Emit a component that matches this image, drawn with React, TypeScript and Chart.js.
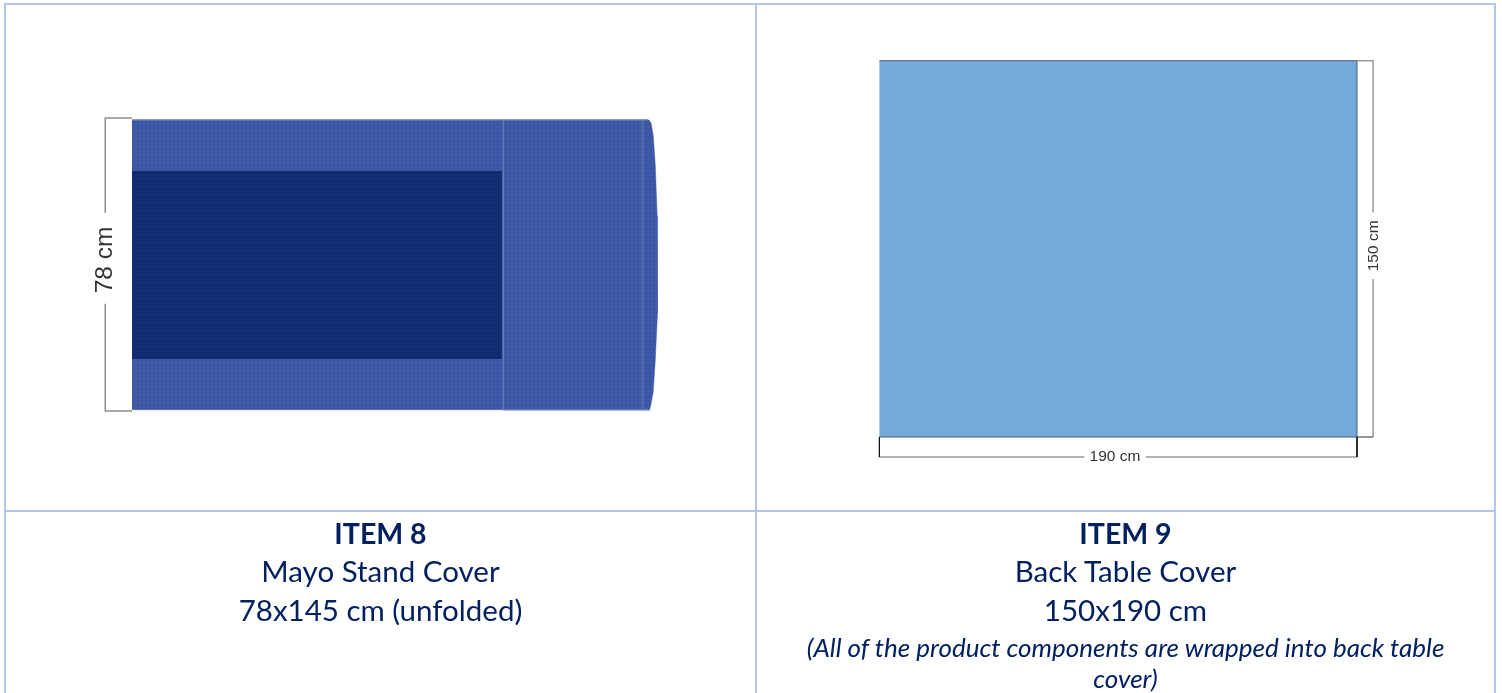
import React, { useEffect, useRef } from "react";
import { Chart, registerables } from "chart.js";

Chart.register(...registerables);

type Pt = [number, number];

// ITEM 8 drawing, all values in centimetres
const mayoFabric: Pt[] = [[0, 77.5], [144.8, 77.5], [145.4, 76.6], [146, 73.5], [146.6, 65], [147.1, 52], [147.3, 39], [147.1, 26], [146.6, 14], [146, 5], [145.3, 1.5], [145, 0.3], [0, 0.3]];
const mayoPanel: Pt[] = [[0, 63.9], [103.6, 63.9], [103.6, 13.8], [0, 13.8]];
const mayoFold: Pt[] = [[104, 77.5], [104, 0.3]];
const mayoSeam: Pt[] = [[143, 77.5], [143, 0.3]];
const mayoTopEdge: Pt[] = [[0, 77.5], [144.5, 77.5]];
const mayoBottomEdge: Pt[] = [[104, 0.3], [145, 0.3]];
const mayoDimUpper: Pt[] = [[0, 78], [-7.5, 78], [-7.5, 52.7]];
const mayoDimLower: Pt[] = [[-7.5, 28.5], [-7.5, 0], [0, 0]];
const mayoDimLabel = "78 cm";
const mayoDimLabelAt: Pt = [-7.5, 40.2];

// ITEM 9 drawing, all values in centimetres
const tableCover: Pt[] = [[0, 0], [190, 0], [190, 150], [0, 150]];
const tableDimRightUpper: Pt[] = [[190, 150], [196.4, 150], [196.4, 89.5]];
const tableDimRightLower: Pt[] = [[196.4, 63], [196.4, 0]];
const tableTickRight: Pt[] = [[190, 0], [196.4, 0]];
const tableTickLeft: Pt[] = [[0, 0], [0, -8]];
const tableTickBottom: Pt[] = [[190, 0], [190, -8]];
const tableDimBottomLeft: Pt[] = [[0, -8], [81.5, -8]];
const tableDimBottomRight: Pt[] = [[106, -8], [190, -8]];
const tableWidthLabel = "190 cm";
const tableWidthLabelAt: Pt = [93.7, -8];
const tableHeightLabel = "150 cm";
const tableHeightLabelAt: Pt = [196.7, 76.2];

const captions8 = ["ITEM 8", "Mayo Stand Cover", "78x145 cm (unfolded)"];
const captions9 = ["ITEM 9", "Back Table Cover", "150x190 cm"];
const note9 = ["(All of the product components are wrapped into back table", "cover)"];

const RULE = "#B4C6E7";
const INK = "#002060";

function weave(base: string, dot: string): CanvasPattern {
  const c = document.createElement("canvas");
  c.width = 4;
  c.height = 4;
  const g = c.getContext("2d")!;
  g.fillStyle = base;
  g.fillRect(0, 0, 4, 4);
  g.fillStyle = dot;
  g.fillRect(1, 1, 2, 2);
  return g.createPattern(c, "repeat")!;
}

const ds = (pts: Pt[], o: any) => ({
  data: pts.map(([x, y]) => ({ x, y })),
  showLine: true,
  pointRadius: 0,
  tension: 0,
  borderWidth: 0,
  ...o,
});

type Label = { text: string; at: Pt; font: string; color: string; rotate: boolean };

const labelPlugin = (labels: Label[]) => ({
  id: "dimLabels",
  afterDatasetsDraw(chart: any) {
    const { ctx, scales } = chart;
    labels.forEach((l) => {
      ctx.save();
      ctx.translate(scales.x.getPixelForValue(l.at[0]), scales.y.getPixelForValue(l.at[1]));
      if (l.rotate) ctx.rotate(-Math.PI / 2);
      ctx.font = l.font;
      ctx.fillStyle = l.color;
      ctx.textAlign = "center";
      ctx.textBaseline = "middle";
      ctx.fillText(l.text, 0, 0);
      ctx.restore();
    });
  },
});

function makeChart(canvas: HTMLCanvasElement, datasets: any[], range: number[], labels: Label[]) {
  return new Chart(canvas, {
    type: "scatter",
    data: { datasets },
    options: {
      animation: false,
      responsive: false,
      devicePixelRatio: 1,
      layout: { padding: 0 },
      plugins: { legend: { display: false }, tooltip: { enabled: false } },
      scales: {
        x: { type: "linear", display: false, min: range[0], max: range[1] },
        y: { type: "linear", display: false, min: range[2], max: range[3] },
      },
    },
    plugins: [labelPlugin(labels)],
  } as any);
}

const bar = (style: React.CSSProperties) => <div style={{ position: "absolute", background: RULE, ...style }} />;

const lineStyle = (top: number, italic = false, bold = false): React.CSSProperties => ({
  position: "absolute",
  left: 0,
  right: 0,
  top,
  textAlign: "center",
  whiteSpace: "nowrap",
  color: INK,
  fontFamily: "Lato, sans-serif",
  fontSize: italic ? 26 : bold ? 28.5 : 29.5,
  lineHeight: "30px",
  fontStyle: italic ? "italic" : "normal",
  fontWeight: bold ? 700 : 400,
});

export default function App() {
  const a = useRef<HTMLCanvasElement>(null);
  const b = useRef<HTMLCanvasElement>(null);

  useEffect(() => {
    document.body.style.margin = "0";
    const light = weave("#3A56A4", "#425EAB");
    const dark = weave("#102B70", "#15317A");
    const grey = "#8f8f8f";
    const c1 = makeChart(
      a.current!,
      [
        ds(mayoDimUpper, { borderWidth: 1.5, borderColor: grey }),
        ds(mayoDimLower, { borderWidth: 1.5, borderColor: grey }),
        ds(mayoBottomEdge, { borderWidth: 1.5, borderColor: "#6B7FB8" }),
        ds(mayoTopEdge, { borderWidth: 1.5, borderColor: "#6B7FB8" }),
        ds(mayoSeam, { borderWidth: 2.5, borderColor: "rgba(110,128,185,0.45)" }),
        ds(mayoFold, { borderWidth: 1.5, borderColor: "#6478B6" }),
        ds(mayoPanel, { fill: "shape", backgroundColor: dark }),
        ds(mayoFabric, { fill: "shape", backgroundColor: light, borderWidth: 0.8, borderColor: "rgba(60,85,170,0.5)" }),
      ],
      [-35.3, 174.5, -26.4, 108.1],
      [{ text: mayoDimLabel, at: mayoDimLabelAt, font: '24.5px "Liberation Sans"', color: "#333333", rotate: true }]
    );
    const c2 = makeChart(
      b.current!,
      [
        ds(tableTickLeft, { borderWidth: 1, borderColor: "#111" }),
        ds(tableTickBottom, { borderWidth: 1, borderColor: "#111" }),
        ds(tableTickRight, { borderWidth: 1, borderColor: "#333" }),
        ds(tableDimRightUpper, { borderWidth: 1.5, borderColor: "#9a9a9a" }),
        ds(tableDimRightLower, { borderWidth: 1.5, borderColor: "#9a9a9a" }),
        ds(tableDimBottomLeft, { borderWidth: 1.5, borderColor: "#9a9a9a" }),
        ds(tableDimBottomRight, { borderWidth: 1.5, borderColor: "#9a9a9a" }),
        ds(tableCover, { fill: "shape", backgroundColor: "#75A9D9", borderWidth: 1, borderColor: "#44607c" }),
      ],
      [-48.7, 244.1, -29.1, 172.2],
      [
        { text: tableWidthLabel, at: tableWidthLabelAt, font: '15.5px "Liberation Sans"', color: "#333", rotate: false },
        { text: tableHeightLabel, at: tableHeightLabelAt, font: '15.5px "Liberation Sans"', color: "#333", rotate: true },
      ]
    );
    return () => {
      c1.destroy();
      c2.destroy();
    };
  }, []);

  return (
    <div style={{ position: "absolute", left: 0, top: 0, width: 1502, height: 693, overflow: "hidden", background: "#fff" }}>
      <canvas ref={a} width={749} height={505} style={{ position: "absolute", left: 6, top: 5, width: 749, height: 505 }} />
      <canvas ref={b} width={736} height={505} style={{ position: "absolute", left: 757, top: 5, width: 736, height: 505 }} />
      {bar({ left: 4, top: 3, width: 1492, height: 2 })}
      {bar({ left: 4, top: 510, width: 1492, height: 2 })}
      {bar({ left: 4, top: 3, width: 2, height: 690 })}
      {bar({ left: 755, top: 3, width: 2, height: 690 })}
      {bar({ left: 1494, top: 3, width: 2, height: 690 })}
      <div style={{ position: "absolute", left: 6, width: 749, top: 0, height: 693 }}>
        {captions8.map((t, i) => (
          <div key={t} style={lineStyle(i === 0 ? 518 : 517 + i * 39, false, i === 0)}>{t}</div>
        ))}
      </div>
      <div style={{ position: "absolute", left: 757, width: 737, top: 0, height: 693 }}>
        {captions9.map((t, i) => (
          <div key={t} style={lineStyle(i === 0 ? 518 : 517 + i * 39, false, i === 0)}>{t}</div>
        ))}
        {note9.map((t, i) => (
          <div key={t} style={lineStyle(632 + i * 31, true)}>{t}</div>
        ))}
      </div>
    </div>
  );
}
